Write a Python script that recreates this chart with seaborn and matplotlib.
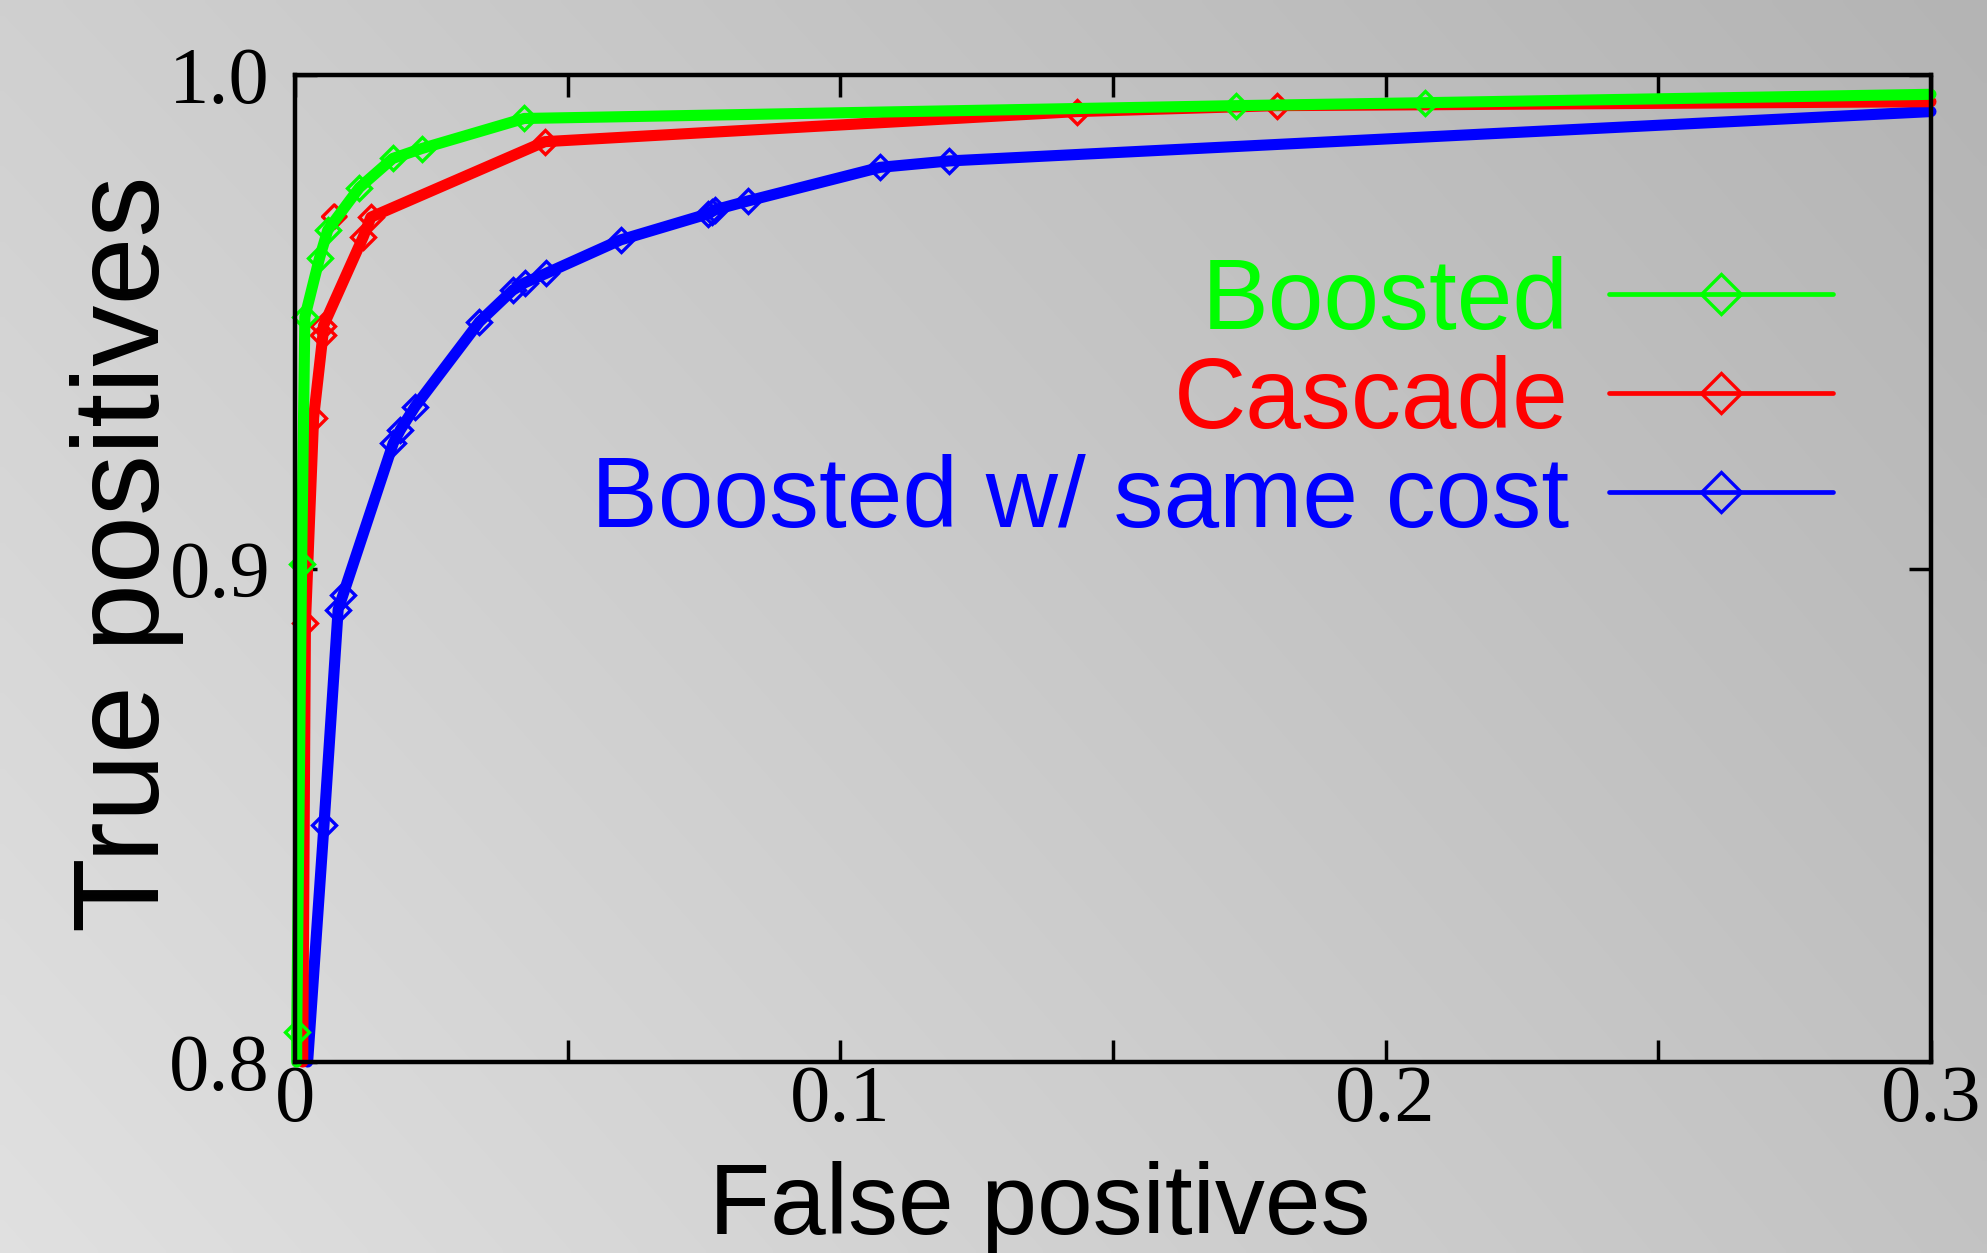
import numpy as np
import matplotlib
matplotlib.use("Agg")
import matplotlib.pyplot as plt
import seaborn as sns
from matplotlib.lines import Line2D

# ROC points (false positive rate, true positive rate)
boosted_fp = [0.0003, 0.0003, 0.0012, 0.0018, 0.0045, 0.0060, 0.0118, 0.0179, 0.0232, 0.0420, 0.1726, 0.2072, 0.3000]
boosted_tp = [0.800, 0.806, 0.901, 0.951, 0.963, 0.9686, 0.9772, 0.9831, 0.9851, 0.9912, 0.9938, 0.9944, 0.9961]

cascade_fp = [0.0014, 0.0019, 0.0034, 0.0051, 0.0052, 0.0125, 0.0139, 0.0458, 0.1434, 0.1800, 0.3000]
cascade_tp = [0.800, 0.889, 0.9306, 0.9473, 0.9492, 0.9672, 0.9712, 0.9865, 0.9926, 0.9938, 0.9946]
cascade_extra_fp = [0.0072]
cascade_extra_tp = [0.9713]

same_cost_fp = [0.0023, 0.0053, 0.0079, 0.0088, 0.0180, 0.0193, 0.0220, 0.0338, 0.0399, 0.0421,
                0.0460, 0.0597, 0.0758, 0.0764, 0.0770, 0.0831, 0.1073, 0.1200, 0.3000]
same_cost_tp = [0.800, 0.848, 0.8917, 0.8947, 0.9254, 0.9281, 0.9328, 0.9500, 0.9564, 0.9579,
                0.9598, 0.9666, 0.9719, 0.9723, 0.9727, 0.9745, 0.9813, 0.9826, 0.9926]

series_names = ["Boosted", "Cascade", "Boosted w/ same cost"]
series_colors = ["#00ff00", "#ff0000", "#0000ff"]

xticks = [0, 0.1, 0.2, 0.3]
xtick_labels = ["0", "0.1", "0.2", "0.3"]
xminor = [0.05, 0.15, 0.25]
yticks = [0.8, 0.9, 1.0]
ytick_labels = ["0.8", "0.9", "1.0"]

sns.set_style("white")
plt.rcParams['font.family'] = ['Liberation Sans', 'DejaVu Sans']
plt.rcParams['text.color'] = 'black'
plt.rcParams['axes.labelcolor'] = 'black'
plt.rcParams['xtick.color'] = 'black'
plt.rcParams['ytick.color'] = 'black'

fig = plt.figure(figsize=(19.87, 12.53), dpi=100)

# grey gradient behind everything
bg = fig.add_axes([0, 0, 1, 1], zorder=-10)
u = np.linspace(0, 1, 256)[None, :]
v = np.linspace(0, 1, 256)[:, None]
tl, tr, bl, br = 0.815, 0.706, 0.880, 0.765
shade = (1 - v) * ((1 - u) * tl + u * tr) + v * ((1 - u) * bl + u * br)
bg.imshow(np.dstack([shade] * 3), aspect='auto', extent=[0, 1, 0, 1], interpolation='bilinear')
bg.set_axis_off()

ax = fig.add_axes([0.1485, 0.1524, 0.8233, 0.7877])
ax.set_facecolor('none')

line_kw = dict(lw=8, marker='D', ms=12, mfc='none', mew=2.4, sort=False,
               estimator=None, clip_on=False, ax=ax)

sns.lineplot(x=same_cost_fp, y=same_cost_tp, color=series_colors[2], mec=series_colors[2],
             markevery=list(range(1, len(same_cost_fp) - 1)), zorder=2, **line_kw)
sns.scatterplot(x=cascade_extra_fp, y=cascade_extra_tp, marker='D', s=144, facecolors='none',
                edgecolor=series_colors[1], linewidth=2.4, ax=ax, zorder=2.05)
sns.lineplot(x=cascade_fp, y=cascade_tp, color=series_colors[1], mec=series_colors[1],
             markevery=list(range(1, len(cascade_fp) - 1)), zorder=2.1, **line_kw)
sns.lineplot(x=boosted_fp, y=boosted_tp, color=series_colors[0], mec=series_colors[0],
             markevery=list(range(1, len(boosted_fp) - 1)), zorder=2.2, **line_kw)

ax.set_xlim(0, 0.3)
ax.set_ylim(0.8, 1.0)
ax.set_xticks(xticks)
ax.set_xticklabels(xtick_labels, fontfamily='Liberation Serif', fontsize=58)
ax.set_xticks(xminor, minor=True)
ax.set_yticks(yticks)
ax.set_yticklabels(ytick_labels, fontfamily='Liberation Serif', fontsize=58)
ax.tick_params(which='both', direction='in', top=True, right=True, bottom=True, left=True,
               length=16, width=2.5, color='black')
ax.tick_params(axis='x', pad=2)
ax.tick_params(axis='y', pad=18)
for sp in ax.spines.values():
    sp.set_color('black')
    sp.set_linewidth(3.2)
    sp.set_zorder(3)

ax.set_xlabel("False positives", fontsize=72)
ax.xaxis.set_label_coords(0.455, -0.100)
ax.set_ylabel("True positives", fontsize=88)
ax.yaxis.set_label_coords(-0.068, 0.515)

handles = [Line2D([], [], color=c, lw=3.4, marker='D', ms=20, mfc='none', mec=c, mew=2.4)
           for c in series_colors]
leg = ax.legend(handles, series_names, loc='upper right', bbox_to_anchor=(0.94, 0.817),
                frameon=False, markerfirst=False, handlelength=2.24, handletextpad=0.4,
                labelspacing=0.05, fontsize=72, borderpad=0, borderaxespad=0,
                labelcolor='linecolor')

fig.savefig("out.png", dpi=100)
